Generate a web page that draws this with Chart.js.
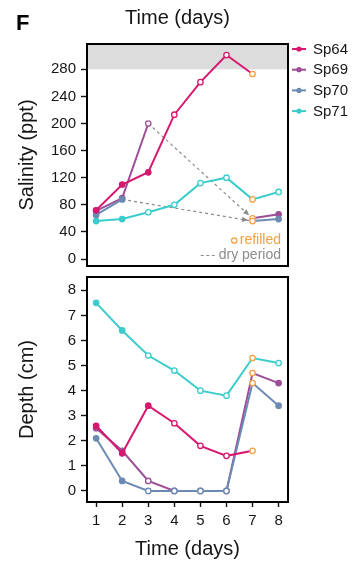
<!DOCTYPE html>
<html>
<head>
<meta charset="utf-8">
<script src="https://cdn.jsdelivr.net/npm/chart.js@4.4.1/dist/chart.umd.min.js"></script>
<style>
  html, body { margin: 0; padding: 0; background: #fff; }
  #wrap { position: relative; width: 356px; height: 563px; }
  #salinity { position: absolute; left: 0; top: 0; }
  #depth { position: absolute; left: 0; top: 270px; }
</style>
</head>
<body>
<div id="wrap">
  <canvas id="salinity" width="356" height="270"></canvas>
  <canvas id="depth" width="356" height="293"></canvas>
</div>
<script>
// Sampling days
const days = [1, 2, 3, 4, 5, 6, 7, 8];
const seriesNames = ['Sp64', 'Sp69', 'Sp70', 'Sp71'];

// Salinity (ppt); null = pool dry
const salinity64 = [72, 110, 128, 213, 261, 301, 273, null];
const salinity69 = [71, 90, 200, null, null, null, 60, 66];
const salinity70 = [65, 88, null, null, null, null, 56, 59];
const salinity71 = [56, 59, 69, 80, 112, 120, 88, 99];

// Water depth (cm)
const depth64 = [2.6, 1.5, 3.4, 2.7, 1.8, 1.4, 1.6, null];
const depth69 = [2.5, 1.6, 0.4, 0, 0, 0, 4.7, 4.3];
const depth70 = [2.1, 0.4, 0, 0, 0, 0, 4.3, 3.4];
const depth71 = [7.5, 6.4, 5.4, 4.8, 4.0, 3.8, 5.3, 5.1];

// Sample state per day: f = filled marker, o = open marker, r = refilled
const salinityState64 = ['f', 'f', 'f', 'o', 'o', 'o', 'r', null];
const salinityState69 = ['f', 'f', 'o', null, null, null, 'r', 'f'];
const salinityState70 = ['f', 'f', null, null, null, null, 'r', 'f'];
const salinityState71 = ['f', 'f', 'o', 'o', 'o', 'o', 'r', 'o'];
const depthState64 = ['f', 'f', 'f', 'o', 'o', 'o', 'r', null];
const depthState69 = ['f', 'f', 'o', 'o', 'o', 'o', 'r', 'f'];
const depthState70 = ['f', 'f', 'o', 'o', 'o', 'o', 'r', 'f'];
const depthState71 = ['f', 'f', 'o', 'o', 'o', 'o', 'r', 'o'];

// Axis ticks
const salinityTicks = [0, 40, 80, 120, 160, 200, 240, 280];
const depthTicks = [0, 1, 2, 3, 4, 5, 6, 7, 8];
const hypersalineFrom = 280;

const COLORS = { Sp64: '#d7186f', Sp69: '#9d4e98', Sp70: '#6c8bb3', Sp71: '#3ccccc' };
const ORANGE = '#f4a043';
const DRY_GREY = '#8c8c8c';
const INK = '#161616';
const FONT = "'Liberation Sans', Arial, Helvetica, sans-serif";
// lowest order is drawn on top
const DRAW_ORDER = { Sp64: 0, Sp70: 1, Sp69: 2, Sp71: 3 };

Chart.defaults.font.family = FONT;
Chart.defaults.color = INK;

function series(name, values, states) {
  const color = COLORS[name];
  return {
    label: name,
    data: days.map((d, i) => ({ x: d, y: values[i] })),
    borderColor: color,
    backgroundColor: color,
    borderWidth: 2,
    pointRadius: 2.7,
    pointHoverRadius: 2.7,
    pointBorderWidth: 1.3,
    pointBackgroundColor: ctx => states[ctx.dataIndex] === 'f' ? color : '#ffffff',
    pointBorderColor: ctx => states[ctx.dataIndex] === 'r' ? ORANGE : color,
    spanGaps: false,
    tension: 0,
    order: DRAW_ORDER[name]
  };
}

// Dashed link across each dry gap: last reading before it to the refill reading
function dryLinks(values) {
  const links = [];
  for (let i = 1; i < values.length; i++) {
    if (values[i] === null && values[i - 1] !== null) {
      let j = i;
      while (j < values.length && values[j] === null) j++;
      if (j < values.length) {
        links.push({
          label: 'dry period',
          dry: true,
          data: [{ x: days[i - 1], y: values[i - 1] }, { x: days[j], y: values[j] }],
          borderColor: DRY_GREY,
          borderWidth: 1.2,
          borderDash: [3, 3],
          pointRadius: 0,
          pointHoverRadius: 0,
          order: 10
        });
      }
    }
  }
  return links;
}

const arrowPlugin = {
  id: 'dryArrows',
  afterDatasetsDraw(chart) {
    const ctx = chart.ctx;
    chart.data.datasets.forEach((ds, k) => {
      if (!ds.dry) return;
      const pts = chart.getDatasetMeta(k).data;
      const a = pts[0], b = pts[pts.length - 1];
      const ang = Math.atan2(b.y - a.y, b.x - a.x);
      const tipX = b.x - Math.cos(ang) * 4.5, tipY = b.y - Math.sin(ang) * 4.5;
      const len = 6, half = 2.6;
      ctx.save();
      ctx.fillStyle = DRY_GREY;
      ctx.beginPath();
      ctx.moveTo(tipX, tipY);
      ctx.lineTo(tipX - Math.cos(ang) * len + Math.sin(ang) * half, tipY - Math.sin(ang) * len - Math.cos(ang) * half);
      ctx.lineTo(tipX - Math.cos(ang) * len - Math.sin(ang) * half, tipY - Math.sin(ang) * len + Math.cos(ang) * half);
      ctx.closePath();
      ctx.fill();
      ctx.restore();
    });
  }
};

const framePlugin = {
  id: 'frame',
  afterDraw(chart) {
    const { left, top, width, height } = chart.chartArea;
    const ctx = chart.ctx;
    ctx.save();
    ctx.strokeStyle = '#000';
    ctx.lineWidth = 2;
    ctx.strokeRect(left, top, width, height);
    ctx.restore();
  }
};

const bandPlugin = {
  id: 'hypersalineBand',
  beforeDatasetsDraw(chart) {
    const { left, top, width } = chart.chartArea;
    const y = chart.scales.y.getPixelForValue(hypersalineFrom);
    const ctx = chart.ctx;
    ctx.save();
    ctx.fillStyle = '#dcdcdc';
    ctx.fillRect(left, top, width, y - top);
    ctx.restore();
  }
};

const keyPlugin = {
  id: 'key',
  afterDraw(chart) {
    const ctx = chart.ctx;
    ctx.save();
    // panel letter
    ctx.fillStyle = '#000';
    ctx.font = 'bold 22px ' + FONT;
    ctx.textBaseline = 'middle';
    ctx.textAlign = 'left';
    ctx.fillText('F', 16, 24);

    // upper time heading
    ctx.fillStyle = INK;
    ctx.font = '20px ' + FONT;
    ctx.textAlign = 'center';
    ctx.fillText('Time (days)', 177.5, 18);

    // series key
    ctx.textAlign = 'left';
    ctx.font = '15px ' + FONT;
    seriesNames.forEach((name, i) => {
      const y = 49 + i * 20.7;
      ctx.strokeStyle = COLORS[name];
      ctx.fillStyle = COLORS[name];
      ctx.lineWidth = 2;
      ctx.beginPath();
      ctx.moveTo(292, y);
      ctx.lineTo(306, y);
      ctx.stroke();
      ctx.beginPath();
      ctx.arc(299, y, 2.6, 0, Math.PI * 2);
      ctx.fill();
      ctx.fillStyle = INK;
      ctx.fillText(name, 313, y + 0.5);
    });

    // notes inside the plot
    const right = chart.chartArea.right - 7;
    ctx.textAlign = 'right';
    ctx.font = '14px ' + FONT;
    ctx.fillStyle = ORANGE;
    ctx.fillText('refilled', right, 240);
    const w1 = ctx.measureText('refilled').width;
    ctx.strokeStyle = ORANGE;
    ctx.lineWidth = 1.3;
    ctx.beginPath();
    ctx.arc(right - w1 - 5.5, 240.5, 2.7, 0, Math.PI * 2);
    ctx.stroke();

    ctx.fillStyle = DRY_GREY;
    ctx.fillText('dry period', right, 255);
    const w2 = ctx.measureText('dry period').width;
    ctx.strokeStyle = DRY_GREY;
    ctx.lineWidth = 1.2;
    ctx.setLineDash([3, 2.5]);
    ctx.beginPath();
    ctx.moveTo(right - w2 - 18, 255.5);
    ctx.lineTo(right - w2 - 4, 255.5);
    ctx.stroke();
    ctx.restore();
  }
};

function noLabelPadding(s) {
  s.paddingTop = 0; s.paddingBottom = 0; s.paddingLeft = 0; s.paddingRight = 0;
}

function yAxis(min, max, tickValues, title) {
  return {
    type: 'linear',
    min, max,
    afterBuildTicks: s => { s.ticks = tickValues.map(v => ({ value: v })); },
    afterFit: s => { s.width = 87; noLabelPadding(s); },
    grid: { drawOnChartArea: false, drawTicks: true, tickLength: 6, tickColor: '#111', tickWidth: 1.4 },
    border: { display: false },
    ticks: { font: { size: 15 }, padding: 5, color: INK },
    title: { display: true, text: title, font: { size: 20 }, color: INK, padding: { top: 15, bottom: 0 } }
  };
}

const common = {
  responsive: false,
  animation: false,
  events: [],
};

new Chart(document.getElementById('salinity'), {
  type: 'line',
  data: {
    datasets: [
      series('Sp64', salinity64, salinityState64),
      series('Sp69', salinity69, salinityState69),
      series('Sp70', salinity70, salinityState70),
      series('Sp71', salinity71, salinityState71),
      ...dryLinks(salinity69),
      ...dryLinks(salinity70)
    ]
  },
  options: {
    ...common,
    layout: { padding: { left: 0, right: 68, top: 44, bottom: 4 } },
    plugins: {
      legend: { display: false },
      tooltip: { enabled: false },
      title: { display: false }
    },
    scales: {
      x: { type: 'linear', min: 0.65, max: 8.36, display: false },
      y: yAxis(-10.3, 317.3, salinityTicks, 'Salinity (ppt)')
    }
  },
  plugins: [bandPlugin, arrowPlugin, framePlugin, keyPlugin]
});

new Chart(document.getElementById('depth'), {
  type: 'line',
  data: {
    datasets: [
      series('Sp64', depth64, depthState64),
      series('Sp69', depth69, depthState69),
      series('Sp70', depth70, depthState70),
      series('Sp71', depth71, depthState71)
    ]
  },
  options: {
    ...common,
    layout: { padding: { left: 0, right: 68, top: 7, bottom: 0 } },
    plugins: { legend: { display: false }, tooltip: { enabled: false } },
    scales: {
      x: {
        type: 'linear', min: 0.65, max: 8.36,
        afterBuildTicks: s => { s.ticks = days.map(v => ({ value: v })); },
        afterFit: s => { s.height = 61; noLabelPadding(s); },
        grid: { drawOnChartArea: false, drawTicks: true, tickLength: 5, tickColor: '#111', tickWidth: 1.4 },
        border: { display: false },
        ticks: { font: { size: 15 }, padding: 5, color: INK, autoSkip: false, maxRotation: 0 },
        title: { display: true, text: 'Time (days)', font: { size: 20 }, color: INK, padding: { top: 0, bottom: 2 } }
      },
      y: yAxis(-0.44, 8.53, depthTicks, 'Depth (cm)')
    }
  },
  plugins: [arrowPlugin, framePlugin]
});
</script>
</body>
</html>
